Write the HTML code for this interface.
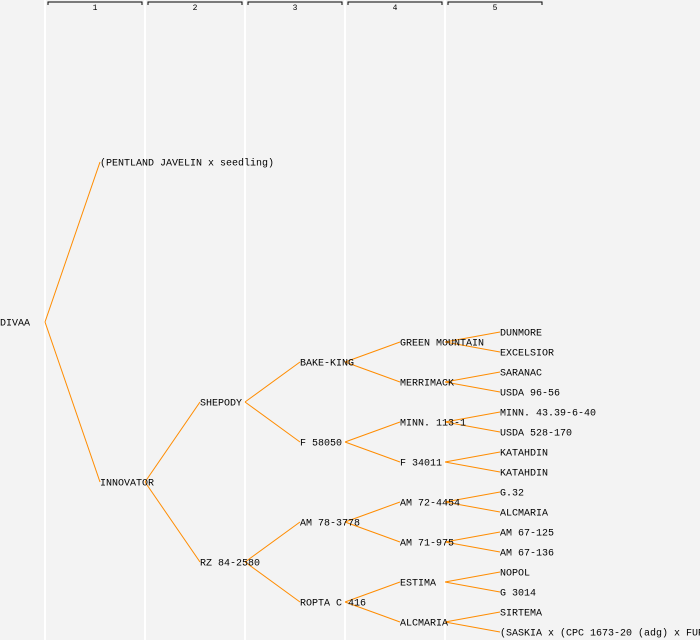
<!DOCTYPE html>
<html><head><meta charset="utf-8"><style>
html,body{margin:0;padding:0;background:#f3f3f3;}
svg{display:block;font-family:"Liberation Mono",monospace;font-size:10px;}
</style></head><body>
<svg id="chart" width="700" height="640">
<rect width="700" height="640" fill="#f3f3f3"/>
<g id="grid"></g><g id="header"></g><g id="links"></g><g id="labels"></g>
</svg>
<script>
// pedigree: [name, path] where path is sequence of 0 (first parent) / 1 (second parent)
const names = ["DIVAA","(PENTLAND JAVELIN x seedling)","INNOVATOR","SHEPODY","RZ 84-2580",
"BAKE-KING","F 58050","AM 78-3778","ROPTA C 416",
"GREEN MOUNTAIN","MERRIMACK","MINN. 113-1","F 34011","AM 72-4454","AM 71-975","ESTIMA","ALCMARIA",
"DUNMORE","EXCELSIOR","SARANAC","USDA 96-56","MINN. 43.39-6-40","USDA 528-170","KATAHDIN","KATAHDIN",
"G.32","ALCMARIA","AM 67-125","AM 67-136","NOPOL","G 3014","SIRTEMA","(SASKIA x (CPC 1673-20 (adg) x FUR"];
const paths = ["","0","1","10","11","100","101","110","111",
"1000","1001","1010","1011","1100","1101","1110","1111",
"10000","10001","10010","10011","10100","10101","10110","10111",
"11000","11001","11010","11011","11100","11101","11110","11111"];
const genLabels = ["1","2","3","4","5"];
const NS="http://www.w3.org/2000/svg";
const H=640, colW=100;
function xOf(g){return g===0?0:g*colW;}
function yOf(p){let k=p.length,i=p?parseInt(p,2):0;return (i+0.5)*H/Math.pow(2,k)+2;}
const grid=document.getElementById('grid');
for(let c=0;c<5;c++){const l=document.createElementNS(NS,'rect');
l.setAttribute('x',45+c*colW-1);l.setAttribute('y',0);l.setAttribute('width',2);l.setAttribute('height',H);l.setAttribute('fill','#ffffff');


grid.appendChild(l);}
const hd=document.getElementById('header');
genLabels.forEach((t,i)=>{const x0=48+i*colW,x1=142+i*colW;
const p=document.createElementNS(NS,'path');
p.setAttribute('d',`M${x0} 5V2H${x1}V5`);p.setAttribute('stroke','#000');p.setAttribute('fill','none');p.setAttribute('stroke-width','1');


hd.appendChild(p);
const tx=document.createElementNS(NS,'text');tx.setAttribute('x',(x0+x1)/2);tx.setAttribute('y',10);tx.setAttribute('text-anchor','middle');tx.setAttribute('font-size','8');tx.textContent=t;


hd.appendChild(tx);});
const links=document.getElementById('links'),labels=document.getElementById('labels');
names.forEach((n,i)=>{const p=paths[i],g=p.length,x=xOf(g),y=yOf(p);
if(g>0){const pp=p.slice(0,-1),px=xOf(g-1)+45,py=yOf(pp);
const l=document.createElementNS(NS,'line');l.setAttribute('x1',px);l.setAttribute('y1',py);l.setAttribute('x2',x);l.setAttribute('y2',y);
l.setAttribute('stroke','#ff8c00');l.setAttribute('stroke-width','1');


links.appendChild(l);}
const t=document.createElementNS(NS,'text');t.setAttribute('x',x);t.setAttribute('y',y+3.5);t.setAttribute('fill','#000');t.textContent=n;


labels.appendChild(t);});
</script>
</body></html>
